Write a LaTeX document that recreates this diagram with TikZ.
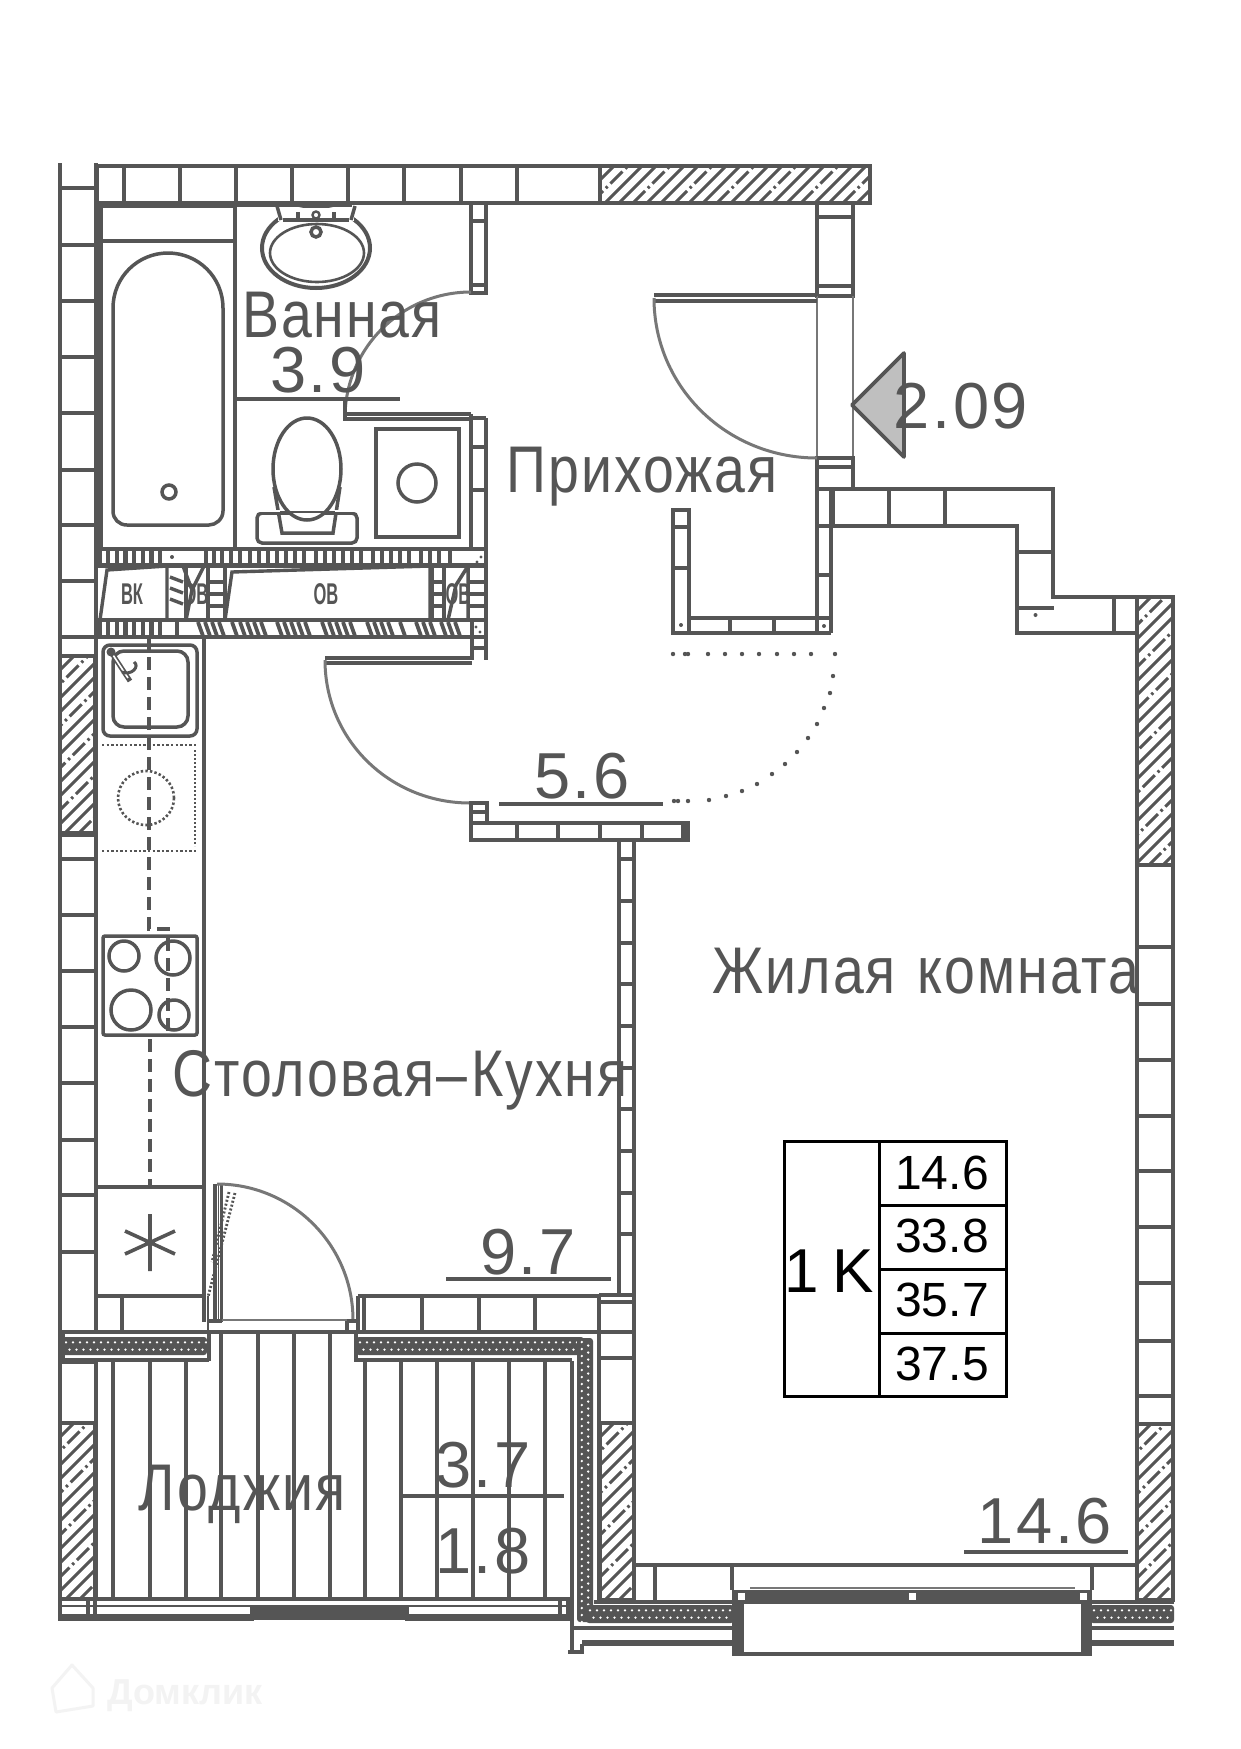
\documentclass[tikz,border=0pt]{standalone}
\usepackage{fontspec}
\setmainfont{Liberation Sans}
\newfontfamily\labnum[LetterSpace=4]{Liberation Sans}
\newfontfamily\tabfont{Liberation Sans}
\newfontfamily\labtxt[FakeStretch=0.84,LetterSpace=3]{Liberation Sans}
\newfontfamily\labsmall[FakeStretch=0.55]{Liberation Sans Bold}
\definecolor{wallc}{HTML}{555555}
\definecolor{doorc}{HTML}{777777}
\definecolor{markc}{HTML}{F3F3F3}
\tikzset{
  wall/.style={draw=wallc,line width=3.5pt},
  solid fill/.style={fill=wallc,draw=none},
  door arc/.style={draw=doorc,line width=3pt},
  thin line/.style={draw=doorc,line width=1.1pt},
  fixture/.style={draw=wallc,line width=3.5pt},
  dash run/.style={draw=wallc,line width=4.2pt,dash pattern=on 13pt off 7pt},
  room/.style={text=wallc,anchor=base,inner sep=0pt},
  big num/.style={room,font=\labnum\fontsize{65}{65}\selectfont},
  big txt/.style={room,font=\labtxt\fontsize{66}{66}\selectfont},
  tab num/.style={text=black,anchor=base,inner sep=0pt,font=\tabfont\fontsize{48}{48}\selectfont},
  tiny mark/.style={text=wallc,anchor=center,inner sep=0pt,font=\labsmall\fontsize{30}{30}\selectfont},
  tab line/.style={draw=black,line width=3pt},
  under/.style={draw=wallc,line width=3.6pt}
}
% hatch box: x1,y1,x2,y2
\newcommand\hatchbox[4]{%
  \begin{scope}
    \clip (#1,#2) rectangle (#3,#4);
    \pgfmathsetmacro\hst{#1-(#4-#2)}
    \pgfmathsetmacro\hnx{\hst+14}
    \foreach \k [count=\c] in {\hst,\hnx,...,#3} {
      \pgfmathtruncatemacro\hm{mod(\c,3)}
      \ifnum\hm=0
        \draw[draw=wallc,line width=3pt,dash pattern=on 17pt off 4pt on 2.5pt off 4pt] (\k,#4) -- ({\k+#4-#2},#2);
      \else
        \draw[draw=wallc,line width=3pt] (\k,#4) -- ({\k+#4-#2},#2);
      \fi
    }
  \end{scope}
  \draw[wall] (#1,#2) rectangle (#3,#4);
}
% insulation, horizontal: x1,x2,ytop,ybot
\newcommand\hstrip[4]{%
  \fill[wallc,rounded corners=3pt] (#1,#3) rectangle (#2,#4);
  \pgfmathsetmacro\sa{#1+4}\pgfmathsetmacro\sb{#1+11}
  \pgfmathsetmacro\sc{#1+7.5}\pgfmathsetmacro\sd{#1+14.5}
  \pgfmathsetmacro\ya{#3+(#4-#3)*0.3}\pgfmathsetmacro\yb{#3+(#4-#3)*0.7}
  \fill[white] \foreach \k in {\sa,\sb,...,#2} {(\k,\ya) circle[radius=1.3pt]};
  \fill[white] \foreach \k in {\sc,\sd,...,#2} {(\k,\yb) circle[radius=1.3pt]};
}
% insulation, vertical: y1,y2,xl,xr
\newcommand\vstrip[4]{%
  \fill[wallc,rounded corners=3pt] (#3,#1) rectangle (#4,#2);
  \pgfmathsetmacro\sa{#1+4}\pgfmathsetmacro\sb{#1+11}
  \pgfmathsetmacro\sc{#1+7.5}\pgfmathsetmacro\sd{#1+14.5}
  \pgfmathsetmacro\xa{#3+(#4-#3)*0.3}\pgfmathsetmacro\xb{#3+(#4-#3)*0.7}
  \fill[white] \foreach \k in {\sa,\sb,...,#2} {(\xa,\k) circle[radius=1.3pt]};
  \fill[white] \foreach \k in {\sc,\sd,...,#2} {(\xb,\k) circle[radius=1.3pt]};
}
\begin{document}
\begin{tikzpicture}[x=1pt,y=-1pt]
\useasboundingbox (0,0) rectangle (1241,1749);
\fill[white] (0,0) rectangle (1241,1749);

% ---------- top wall
\draw[wall] (97,166) rectangle (600,203);
\foreach \x in {124,180,236,292,348,404,461,517} \draw[wall] (\x,166) -- (\x,203);
\hatchbox{600}{166}{870}{203}
\fill[wallc] (97,203) rectangle (235,208);
\fill[wallc] (235,203) rectangle (352,207);

% ---------- left wall
\draw[wall] (60,163) -- (60,1620);
\draw[draw=wallc,line width=4.4pt] (96,163) -- (96,1332);
\foreach \y in {188,245,301,357,413,470,525,581,637,835,859,915,971,1027,1083,1140,1195,1252} \draw[wall] (60,\y) -- (96,\y);
\hatchbox{60}{656}{95}{833}

% ---------- bathroom
\fill[wallc] (97,203) rectangle (103,548);
\draw[wall] (235,206) -- (235,548);
\draw[wall] (101,241) -- (235,241);
\draw[fixture] (113,308) .. controls (113,277) and (138,253) .. (168,253)
  .. controls (198,253) and (223,277) .. (223,308) -- (223,511)
  .. controls (223,519) and (216,525) .. (209,525) -- (127,525)
  .. controls (119,525) and (113,519) .. (113,511) -- cycle;
\draw[fixture] (169,492) circle[radius=7pt];
% basin
\draw[draw=wallc,line width=4pt] (316,248) ellipse [x radius=54pt,y radius=40pt];
\draw[draw=wallc,line width=2.6pt] (317,253) ellipse [x radius=47pt,y radius=29pt];
\fill[white] (278,208) rectangle (354,221);
\draw[wall] (277,206) -- (281,220) (355,206) -- (351,220);
\draw[wall] (283,220) -- (349,220);
\draw[draw=wallc,line width=2.4pt] (316,215) circle[radius=3.5pt];
\draw[wall] (298,212) -- (298,220) (334,212) -- (334,220);
\draw[fixture] (316,232) circle[radius=5pt];
% toilet
\draw[fixture,rounded corners=5pt] (257,513) rectangle (357,543);
\draw[fixture] (274,487) -- (282,533) -- (333,533) -- (340,487);
\fill[white] (258,510) -- (258,512) -- (356,512) -- (356,510) -- cycle;
\draw[fill=white,draw=wallc,line width=3.5pt] (307,469) ellipse [x radius=34pt,y radius=51pt];
\draw[draw=wallc,line width=2.2pt] (280,512) -- (335,512);
% washing machine
\draw[fixture] (376,429) rectangle (459,537);
\draw[fixture] (417,483) circle[radius=19pt];
% partitions
\draw[wall] (471,203) -- (471,293) -- (486,293) -- (486,203);
\draw[wall] (471,221) -- (486,221) (471,285) -- (486,285);
\draw[wall] (486,418) -- (486,550) (471,414) -- (471,550) (471,418) -- (486,418);
\draw[wall] (471,447) -- (486,447) (471,490) -- (486,490);
\draw[door arc] (471,292) .. controls (401.4,292) and (345,348.4) .. (345,418);
\draw[wall] (345,400) -- (345,420);
\draw[wall] (343,419) -- (471,419);
\draw[wall] (345,414) -- (471,414);
\draw[under] (237,399) -- (400,399);

% ---------- shaft band
\draw[draw=wallc,line width=4.4pt] (97,549) -- (486,549);
\draw[draw=wallc,line width=4.4pt] (97,565.5) -- (486,565.5);
\draw[draw=wallc,line width=3.4pt] (97,620) -- (486,620);
\draw[draw=wallc,line width=4.4pt] (60,637) -- (486,637);
\draw[wall] (486,548) -- (486,660) (472,620) -- (472,660);
\draw[wall] (472,648) -- (486,648);
\foreach \x in {99.5,108,117,125.5,134,143,151.5,160} \draw[draw=wallc,line width=4.6pt] (\x,551) -- (\x,564);
\foreach \x in {206,214,222,231,240,250,259,268,277,286,295,304,316,325,334,343,352,361,373,382,391,400,409,421,430,439,450} \draw[draw=wallc,line width=4.2pt] (\x,551) -- (\x,564);
\foreach \x in {99.5,108,117,125.5,134,143,151.5,160,177} \draw[draw=wallc,line width=4.6pt] (\x,622) -- (\x,636);
\foreach \x in {198,205,212,219,232,240,247,254,261,277,284,291,298,305,322,329,336,343,350,367,374,381,388,400,416,423,430,441,448,455} \draw[draw=wallc,line width=3.8pt] (\x,622) -- (\x+5,636);
\fill[wallc] (172,557) circle[radius=2pt] (477,562) circle[radius=1.6pt] (481,557) circle[radius=1.6pt] (476,627) circle[radius=1.6pt] (480,632) circle[radius=1.6pt];
% BK and OB boxes
\draw[draw=wallc,line width=3.4pt] (100,620) -- (107,570) -- (167,566) -- (167,620);
\draw[draw=wallc,line width=3.4pt] (225,620) -- (232,572) -- (430,566) -- (430,620);
\node[tiny mark] (labelBK) at (132,594) {ВК};
\node[tiny mark] (labelOV) at (326,594) {ОВ};
% stub columns
\foreach \y in {577,588,599} \draw[draw=wallc,line width=3.4pt] (170,\y) -- (183,\y+5);
\draw[wall] (186,566) -- (186,620) (208,566) -- (208,620) (225,566) -- (225,620);
\draw[wall] (183,566) -- (192,590) -- (186,620) (204,566) -- (192,590);
\foreach \y in {582,594,606} \draw[draw=wallc,line width=3.4pt] (208,\y) -- (225,\y);
\draw[wall] (444,566) -- (444,620) (432,566) -- (432,620);
\foreach \y in {582,594,606} \draw[draw=wallc,line width=3.4pt] (431,\y) -- (444,\y);
\foreach \y in {582,594,606} \draw[draw=wallc,line width=3.4pt] (470,\y) -- (485,\y);
\draw[wall] (468,566) -- (468,620) (448,620) -- (456,585) -- (468,566);
\node[tiny mark] (labelVa) at (196,594) {ОВ};
\node[tiny mark] (labelVb) at (458,594) {ОВ};

% ---------- kitchen
\draw[draw=wallc,line width=4.4pt] (204,637) -- (204,1322);
\draw[draw=wallc,line width=2pt] (208,1296) -- (208,1332);
\draw[fixture,rounded corners=7pt] (103,645) rectangle (197,736);
\draw[fixture,rounded corners=11pt] (113,651) rectangle (188,727);
\draw[draw=wallc,line width=5pt] (111,652) -- (130,681);
\draw[draw=white,line width=1.6pt] (113,655) -- (128,678);
\draw[draw=wallc,line width=3pt] (122,672) .. controls (132,676) and (140,666) .. (134,662);
\fill[wallc] (111,652) circle[radius=4.5pt];
\draw[dash run] (149,637) -- (149,929) -- (168,929) -- (168,1035);
\draw[dash run] (150,1039) -- (150,1187);
% dishwasher dotted
\draw[draw=wallc,line width=2.6pt,dash pattern=on 2.4pt off 2.2pt] (102,745) -- (197,745);
\draw[draw=wallc,line width=2.6pt,dash pattern=on 2.4pt off 2.2pt] (102,851) -- (197,851);
\draw[draw=wallc,line width=2.8pt,dash pattern=on 2.2pt off 1.8pt] (195,750) -- (195,846);
\draw[draw=wallc,line width=2.6pt,dash pattern=on 2.4pt off 2.2pt] (146,798) ellipse [x radius=28pt,y radius=27pt];
% hob
\draw[fixture,rounded corners=2pt] (103,936) rectangle (197,1035);
\draw[fixture] (124,956) circle[radius=15pt];
\draw[fixture] (173,958) circle[radius=17pt];
\draw[fixture] (131,1010) circle[radius=20pt];
\draw[fixture] (174,1015) circle[radius=15pt];
% vent
\draw[wall] (97,1187) -- (204,1187);
\draw[draw=wallc,line width=3.6pt] (150,1214) -- (150,1271) (125,1254) -- (175,1231) (125,1231) -- (175,1254);
\draw[wall] (97,1296) -- (204,1296);
\draw[wall] (122,1296) -- (122,1332);
\draw[draw=wallc,line width=3.6pt] (60,1332) -- (634,1332);
\hstrip{62}{207}{1337}{1355}
\fill[wallc] (60,1332) rectangle (65,1364);
\draw[wall] (60,1360) -- (209,1360);
\fill[wallc] (60,1360) rectangle (97,1364);
\draw[draw=wallc,line width=4pt] (209,1332) -- (209,1361);

% balcony door
\draw[wall] (215,1184) -- (215,1322);
\draw[wall] (221.5,1184) -- (221.5,1322);
\draw[draw=wallc,line width=1.5pt] (218.5,1184) -- (218.5,1322);
\draw[door arc] (217,1184) .. controls (292,1184) and (353,1245) .. (353,1320);
\draw[thin line] (222,1320) -- (350,1320);
\draw[wall] (208,1321) -- (222,1321) (347,1321) -- (358,1321) (347,1321) -- (347,1332);
\draw[draw=wallc,line width=2.8pt,dash pattern=on 2pt off 2pt] (235,1193) -- (208,1297);
\draw[draw=wallc,line width=2.8pt,dash pattern=on 2pt off 2pt] (229,1192) -- (212,1262);
% wall right of balcony door
\draw[wall] (358,1296) -- (599,1296);
\draw[wall] (358,1296) -- (358,1332) (364,1296) -- (364,1332);
\foreach \x in {422,479,535} \draw[wall] (\x,1296) -- (\x,1332);
\fill[wallc] (354,1332) rectangle (358,1361);
\hstrip{356}{584}{1337}{1355}
\draw[wall] (354,1360) -- (572,1360);
% kitchen/room wall
\draw[wall] (619,838) -- (619,1296);
\draw[draw=wallc,line width=4.4pt] (634,838) -- (634,1602);
\foreach \y in {859,901,943,984,1026,1068,1109,1151,1193,1234} \draw[wall] (619,\y) -- (634,\y);
\draw[wall] (599,1295) -- (634,1295) (599,1302) -- (634,1302) (599,1295) -- (599,1602);
\draw[wall] (599,1358) -- (634,1358);
\hatchbox{600}{1423}{634}{1600}

% ---------- loggia
\foreach \x in {96,113,150,186,365,401,437,473,509,545,572} \draw[wall] (\x,1361) -- (\x,1599);
\foreach \x in {221,258,294,330} \draw[wall] (\x,1332) -- (\x,1599);
\draw[wall] (60,1599) -- (572,1599);
\hatchbox{60}{1423}{95}{1599}
\fill[wallc] (250,1605) rectangle (409,1620);
\fill[wallc] (58,1614) rectangle (254,1621);
\fill[wallc] (405,1614) rectangle (572,1621);
\draw[draw=wallc,line width=2pt] (60,1606) -- (250,1606) (409,1606) -- (572,1606);
\draw[wall] (88,1599) -- (88,1614) (95,1599) -- (95,1614) (560,1599) -- (560,1614) (568,1599) -- (568,1614);
% ---------- bottom right walls
\draw[wall] (572,1599) -- (572,1651);
\draw[wall] (568,1652) -- (582,1652) -- (582,1644);
\vstrip{1338}{1622}{577}{593}
\hstrip{586}{734}{1605}{1623}
\draw[wall] (572,1628) -- (732,1628);
\fill[wallc] (582,1640) rectangle (732,1646);
\draw[wall] (634,1565) -- (1136,1565);
\draw[wall] (594,1602) -- (734,1602);
\draw[wall] (655,1565) -- (655,1602);
% window
\fill[wallc] (732,1590) rectangle (1092,1604);
\fill[wallc] (732,1590) rectangle (744,1656);
\fill[wallc] (1081,1590) rectangle (1092,1656);
\draw[wall] (744,1654) -- (1081,1654);
\draw[wall] (732,1565) -- (732,1590) (1092,1565) -- (1092,1590);
\fill[white] (737.5,1592.5) rectangle (744.5,1599.5);
\fill[white] (908.5,1592.5) rectangle (915.5,1599.5);
\fill[white] (1079.5,1592.5) rectangle (1086.5,1599.5);
\draw[draw=doorc,line width=1.8pt] (750,1588) -- (1075,1588);
\hstrip{1090}{1174}{1605}{1623}
\draw[wall] (1092,1628) -- (1174,1628);
\fill[wallc] (1092,1640) rectangle (1174,1646);
\draw[wall] (1092,1602) -- (1174,1602);

% ---------- right wall
\draw[wall] (1137,633) -- (1137,1602);
\draw[draw=wallc,line width=4.4pt] (1173,597) -- (1173,1602);
\hatchbox{1137}{597}{1173}{865}
\foreach \y in {947,1004,1060,1116,1171,1227,1283,1341,1396} \draw[wall] (1137,\y) -- (1173,\y);
\hatchbox{1137}{1424}{1173}{1600}

% ---------- entry and upper right walls
\draw[wall] (817,203) -- (817,296) -- (853,296) -- (853,203);
\draw[wall] (817,217) -- (853,217) (817,286) -- (853,286);
\draw[thin line] (817,296) -- (817,458) (853,296) -- (853,458);
\draw[wall] (817,458) rectangle (853,489);
\draw[wall] (817,467) -- (853,467);
\draw[wall] (654,295) -- (817,295);
\draw[wall] (654,301) -- (817,301);
\draw[door arc] (654,298) .. controls (654,387.3) and (727,458) .. (817,458);
\draw[wall] (817,489) -- (1053,489) -- (1053,597) -- (1173,597);
\draw[wall] (817,526) -- (1017,526) -- (1017,633) -- (1137,633);
\foreach \x in {833.5,889,945} \draw[wall] (\x,489) -- (\x,526);
\draw[wall] (1017,552) -- (1053,552);
\draw[draw=wallc,line width=3.6pt] (1017,608) -- (1054,608);
\fill[wallc] (1035.5,615) circle[radius=2pt];
\draw[wall] (1114,597) -- (1114,633);
% closet
\draw[wall] (673,510) rectangle (689,633);
\draw[wall] (673,527) -- (689,527) (673,568) -- (689,568);
\draw[wall] (817,489) -- (817,633) (831,489) -- (831,633);
\draw[wall] (817,526) -- (831,526) (817,575) -- (831,575);
\draw[wall] (673,633) -- (831,633) (689,618) -- (831,618);
\draw[wall] (730,618) -- (730,633) (774,618) -- (774,633);
\fill[wallc] (681,625) circle[radius=2pt] (824,626) circle[radius=2pt];
% dotted door
\fill[wallc] \foreach \p in {(673,654),(685,654),(688,654),(708,654),(725,654),(742,654),(759,654),(777,654),(794,654),(811,654),(835,654),(833,676),(830,693),(824,708),(817,724),(808,738),(797,752),(785,764),(772,774),(757,784),(742,791),(726,796),(709,800),(688,801),(674,801),(678,801)} {\p circle[radius=2.2pt]};

% ---------- middle door
\draw[wall] (325,658) -- (472,658);
\draw[wall] (325,663) -- (472,663);
\draw[door arc] (325,660) .. controls (325,740) and (390,803) .. (470,803);
\draw[wall] (471,803) rectangle (487,823);
\draw[wall] (471,812) -- (487,812);
\draw[wall] (471,823) rectangle (688,840);
\foreach \x in {517,558,600,642} \draw[wall] (\x,823) -- (\x,840);
\fill[wallc] (681,823) rectangle (689,841);
\draw[under] (499,804) -- (663,804);

% ---------- texts
\node[big txt] (bath) at (342,337) {Ванная};
\node[big num] (bathA) at (318,392) {3.9};
\node[big txt] (hall) at (642,492) {Прихожая};
\node[big num] (hallA) at (582,798) {5.6};
\node[big txt] (living) at (926,993) {Жилая\hspace{22pt}комната};
\node[big txt] (kitchen) at (400,1096) {Столовая–\hspace{4pt}Кухня};
\node[big num] (kitchenA) at (528,1274) {9.7};
\draw[under] (446,1279) -- (611,1279);
\node[big txt] (loggia) at (242,1510) {Лоджия};
\node[big num] (loggiaA) at (483,1487) {3.7};
\draw[under] (402,1496) -- (564,1496);
\node[big num] (loggiaB) at (483,1573) {1.8};
\node[big num] (livingA) at (1045,1543) {14.6};
\draw[under] (964,1552) -- (1128,1552);

% entrance mark
\draw[draw=wallc,line width=3.6pt,fill=black!25,line join=round] (852,405) -- (904,353) -- (904,457) -- cycle;
\node[big num] (entry) at (961,428) {2.09};

% summary table
\draw[tab line] (784,1141) rectangle (1006,1396);
\draw[tab line] (879,1141) -- (879,1396);
\foreach \y in {1205,1269,1333} \draw[tab line] (879,\y) -- (1006,\y);
\node[tab num] (tabA) at (942,1189) {14.6};
\node[tab num] (tabB) at (942,1252) {33.8};
\node[tab num] (tabC) at (942,1316) {35.7};
\node[tab num] (tabD) at (942,1380) {37.5};
\node[tab num,font=\tabfont\fontsize{62}{62}\selectfont] (tabE) at (829,1292) {1\kern 14pt K};

% watermark
\draw[draw=markc,line width=3pt,line join=round] (52,1688) -- (72,1665) -- (93,1688) -- (93,1706) -- (56,1712) -- cycle;
\node[anchor=base west,inner sep=0pt,text=markc,font=\bfseries\fontsize{36}{36}\selectfont] (brand) at (107,1704) {Домклик};
\end{tikzpicture}
\end{document}
